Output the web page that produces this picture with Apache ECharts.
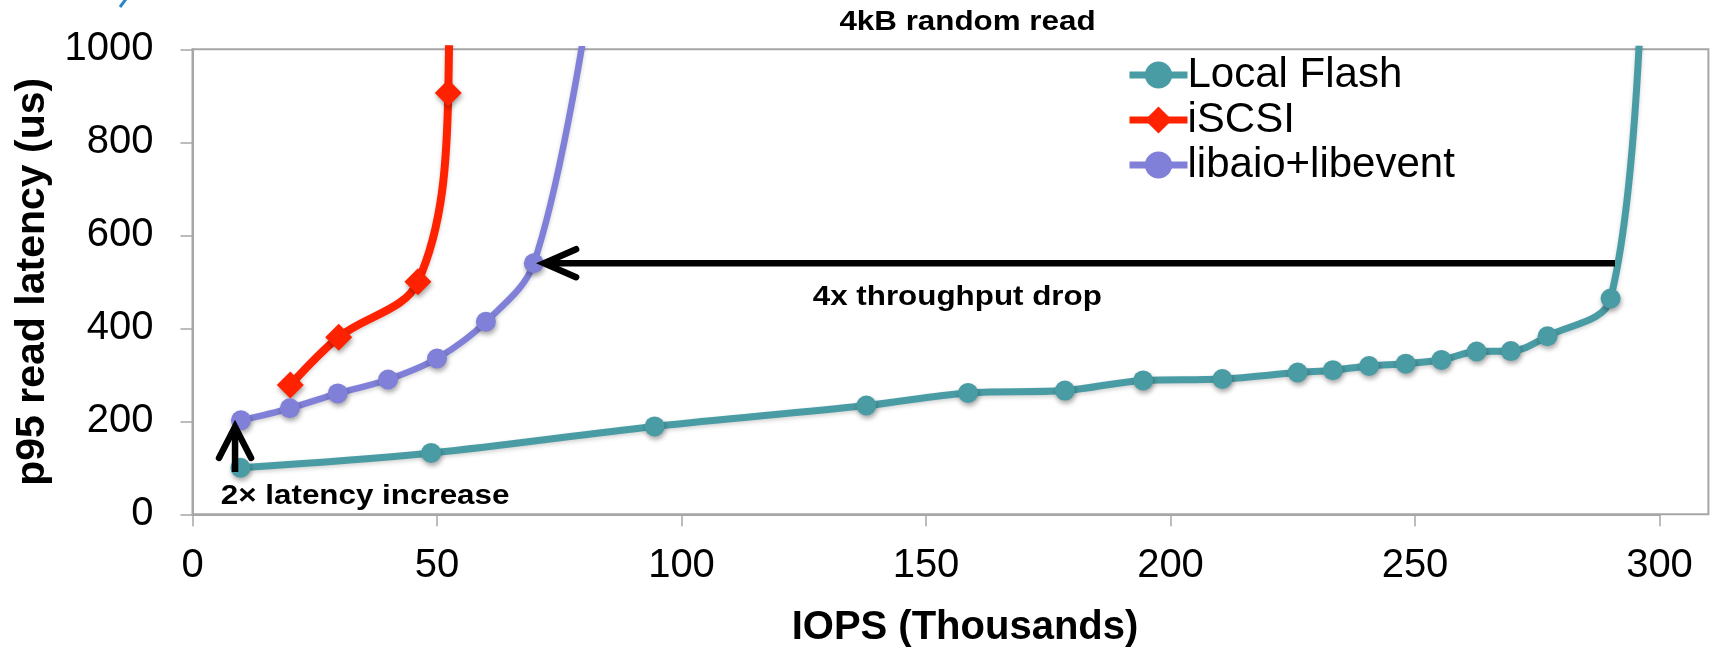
<!DOCTYPE html>
<html>
<head>
<meta charset="utf-8">
<script src="https://cdn.jsdelivr.net/npm/echarts@6/dist/echarts.min.js"></script>
<style>
html,body{margin:0;padding:0;background:#ffffff;}
#main{width:1714px;height:652px;}
</style>
</head>
<body>
<div id="main"></div>
<script>
// ---- data (IOPS in thousands, p95 latency in us) ----
const localFlashX = [9.8, 48.8, 94.5, 137.8, 158.6, 178.4, 194.4, 210.6, 226.0, 233.2, 240.6, 248.1, 255.4, 262.6, 269.6, 277.1, 290.0];
const localFlashY = [100, 132, 189, 234, 261, 266, 288, 291, 305, 310, 319, 324, 332, 350, 351, 383, 464];
const localFlashOffChart = [296.5, 1200];

const iscsiX = [20.0, 29.9, 46.1, 52.3];
const iscsiY = [278, 381, 500, 906];
const iscsiOffChart = [52.7, 1500];

const libaioX = [9.9, 19.9, 29.7, 40.0, 50.0, 60.0, 69.8];
const libaioY = [202, 228, 260, 290, 335, 414, 540];
const libaioOffChart = [80.0, 1030];

const seriesNames = ['Local Flash', 'iSCSI', 'libaio+libevent'];
const xTickMin = 0, xTickMax = 300, xTickStep = 50;
const yTickMin = 0, yTickMax = 1000, yTickStep = 200;
const plotFrameXMax = 310;

const chartTitle = '4kB random read';
const xAxisTitle = 'IOPS (Thousands)';
const yAxisTitle = 'p95 read latency (us)';
const throughputNote = '4x throughput drop';
const latencyNote = '2× latency increase';
// annotation anchors in data units
const hArrow = {y: 540, xTip: 71.9, xEnd: 290.9};
const vArrow = {x: 8.7, yTip: 188, yEnd: 91};
const throughputNoteAt = [156.4, 467];
const latencyNoteAt = [5.8, 39];

// ---- styling ----
const FONT = '"Liberation Sans", Arial, Helvetica, sans-serif';
const AXIS_GRAY = '#A6A6A6';
const colors = ['#4A9CA4', '#FF2200', '#8080D8'];

function pairs(xs, ys, tail) {
  const d = xs.map((x, i) => [x, ys[i]]);
  d.push({value: tail, symbol: 'none'});
  return d;
}

const markerShadow = {shadowColor: 'rgba(0,0,0,0.35)', shadowBlur: 5, shadowOffsetX: 1, shadowOffsetY: 3};
const lineShadow = {shadowColor: 'rgba(0,0,0,0.18)', shadowBlur: 4, shadowOffsetY: 2};

const chart = echarts.init(document.getElementById('main'), null, {renderer: 'canvas'});

const option = {
  backgroundColor: '#ffffff',
  animation: false,
  textStyle: {fontFamily: FONT},
  grid: {left: 192.5, top: 49.3, right: 54.5, bottom: 137.7, containLabel: false, outerBoundsMode: 'none'},
  legend: {
    orient: 'vertical', left: 1126, top: 54, padding: 0,
    itemWidth: 58, itemHeight: 34, itemGap: 3,
    lineStyle: {width: 7},
    textStyle: {fontSize: 42, color: '#000', fontFamily: FONT, lineHeight: 40, padding: [0, 0, 0, -5]},
    data: seriesNames
  },
  xAxis: {
    type: 'value', min: xTickMin, max: xTickMax, interval: xTickStep,
    axisLine: {show: true, lineStyle: {color: AXIS_GRAY, width: 2}},
    axisTick: {show: true, inside: false, length: 12, lineStyle: {color: AXIS_GRAY, width: 1.5}},
    axisLabel: {fontSize: 40, color: '#000', margin: 32, fontFamily: FONT, formatter: v => String(v)},
    splitLine: {show: false},
    name: xAxisTitle, nameLocation: 'middle', nameGap: 94,
    nameTextStyle: {fontSize: 40, fontWeight: 'bold', color: '#000', fontFamily: FONT, padding: [0, 0, 0, 78]}
  },
  yAxis: {
    type: 'value', min: yTickMin, max: yTickMax, interval: yTickStep,
    axisLine: {show: true, lineStyle: {color: AXIS_GRAY, width: 2}},
    axisTick: {show: true, inside: false, length: 12, lineStyle: {color: AXIS_GRAY, width: 1.5}},
    axisLabel: {fontSize: 40, color: '#000', margin: 39, fontFamily: FONT, formatter: v => String(v)},
    splitLine: {show: false},
    name: yAxisTitle, nameLocation: 'middle', nameRotate: 90, nameGap: 130,
    nameTextStyle: {fontSize: 41, fontWeight: 'bold', color: '#000', fontFamily: FONT}
  },
  series: [
    {
      name: seriesNames[0], type: 'line', smooth: 0.35, clip: true,
      data: pairs(localFlashX, localFlashY, localFlashOffChart),
      symbol: 'circle', symbolSize: 20,
      lineStyle: Object.assign({color: colors[0], width: 7}, lineShadow),
      itemStyle: Object.assign({color: colors[0]}, markerShadow),
      z: 2
    },
    {
      name: seriesNames[1], type: 'line', smooth: 0.35, clip: true,
      data: pairs(iscsiX, iscsiY, iscsiOffChart),
      symbol: 'diamond', symbolSize: 27,
      lineStyle: Object.assign({color: colors[1], width: 8}, lineShadow),
      itemStyle: Object.assign({color: colors[1]}, markerShadow),
      z: 3
    },
    {
      name: seriesNames[2], type: 'line', smooth: 0.35, clip: true,
      data: pairs(libaioX, libaioY, libaioOffChart),
      symbol: 'circle', symbolSize: 20,
      lineStyle: Object.assign({color: colors[2], width: 6.5}, lineShadow),
      itemStyle: Object.assign({color: colors[2]}, markerShadow),
      z: 4
    }
  ]
};
chart.setOption(option);

const px = (x, y) => chart.convertToPixel({gridIndex: 0}, [x, y]);

const tl = px(xTickMin, yTickMax);
const br = px(plotFrameXMax, yTickMin);

const hTip = px(hArrow.xTip, hArrow.y);
const hEnd = px(hArrow.xEnd, hArrow.y);
const vTip = px(vArrow.x, vArrow.yTip);
const vEnd = px(vArrow.x, vArrow.yEnd);
const tn = px(throughputNoteAt[0], throughputNoteAt[1]);
const ln = px(latencyNoteAt[0], latencyNoteAt[1]);

const boldSmall = 'bold 28px ' + FONT;

chart.setOption({
  graphic: [
    {type: 'rect', silent: true, z: 1,
     shape: {x: tl[0], y: tl[1], width: br[0] - tl[0], height: br[1] - tl[1]},
     style: {fill: 'none', stroke: AXIS_GRAY, lineWidth: 2}},
    {type: 'text', x: 967.5, y: 22, scaleX: 1.12, z: 50,
     style: {text: chartTitle, font: boldSmall, fill: '#000', textAlign: 'center', textVerticalAlign: 'middle'}},
    {type: 'line', z: 50, shape: {x1: hEnd[0], y1: hEnd[1], x2: hTip[0] + 3, y2: hTip[1]},
     style: {stroke: '#000', lineWidth: 6.5, lineCap: 'butt'}},
    {type: 'polyline', z: 50,
     shape: {points: [[hTip[0] + 32, hTip[1] - 14], [hTip[0], hTip[1]], [hTip[0] + 32, hTip[1] + 14]]},
     style: {stroke: '#000', lineWidth: 6.5, lineCap: 'round', lineJoin: 'miter', fill: 'none'}},
    {type: 'line', z: 50, shape: {x1: vEnd[0], y1: vEnd[1], x2: vTip[0], y2: vTip[1] + 3},
     style: {stroke: '#000', lineWidth: 6.5, lineCap: 'butt'}},
    {type: 'polyline', z: 50,
     shape: {points: [[vTip[0] - 16, vTip[1] + 31], [vTip[0], vTip[1]], [vTip[0] + 16, vTip[1] + 31]]},
     style: {stroke: '#000', lineWidth: 6.5, lineCap: 'round', lineJoin: 'miter', fill: 'none'}},
    {type: 'text', x: tn[0], y: tn[1], scaleX: 1.12, z: 50,
     style: {text: throughputNote, font: boldSmall, fill: '#000', textAlign: 'center', textVerticalAlign: 'middle'}},
    {type: 'text', x: ln[0], y: ln[1], scaleX: 1.12, z: 50,
     style: {text: latencyNote, font: boldSmall, fill: '#000', textAlign: 'left', textVerticalAlign: 'middle'}},
    {type: 'line', z: 50, shape: {x1: 126, y1: -1, x2: 120, y2: 7},
     style: {stroke: '#2C86C6', lineWidth: 3}}
  ]
});
</script>
</body>
</html>
